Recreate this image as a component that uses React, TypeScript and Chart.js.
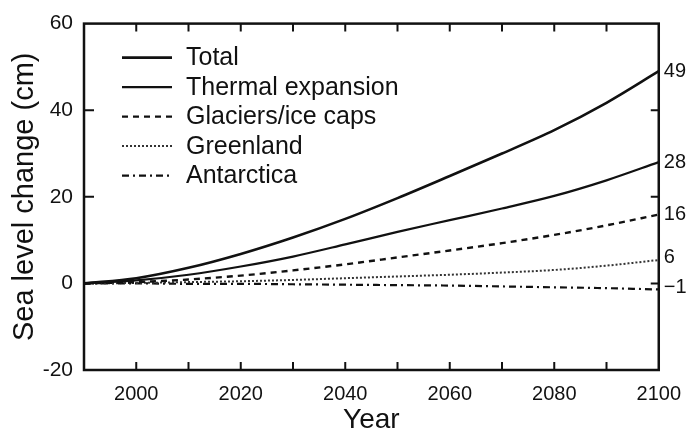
import React, { useEffect, useRef } from "react";
import { Chart, registerables } from "chart.js";

Chart.register(...registerables);

const years = [1990, 2000, 2010, 2020, 2030, 2040, 2050, 2060, 2070, 2080, 2090, 2100];
const total = [0, 1.2, 3.6, 6.8, 10.6, 14.9, 19.7, 24.8, 30.0, 35.4, 41.7, 49];
const thermal = [0, 0.7, 2.0, 3.9, 6.2, 9.0, 11.9, 14.6, 17.3, 20.2, 23.8, 28];
const glaciers = [0, 0.3, 0.9, 1.8, 3.0, 4.4, 6.0, 7.6, 9.3, 11.2, 13.4, 15.9];
const greenland = [0, 0.1, 0.3, 0.5, 0.8, 1.2, 1.6, 2.0, 2.5, 3.1, 4.1, 5.4];
const antarctica = [0, 0, -0.1, -0.1, -0.2, -0.3, -0.4, -0.5, -0.7, -0.9, -1.1, -1.4];

const seriesLabels = ["Total", "Thermal expansion", "Glaciers/ice caps", "Greenland", "Antarctica"];
const xTickLabels = [2000, 2020, 2040, 2060, 2080, 2100];
const xMinorTicks = [2000, 2010, 2020, 2030, 2040, 2050, 2060, 2070, 2080, 2090];
const yTicks = [-20, 0, 20, 40, 60];
const yInnerTicks = [0, 20, 40];
const rightLabelValues = [49, 28, 16, 6, -1];

const FONT = "'Liberation Sans', Arial, Helvetica, sans-serif";

const frameAndLegend = {
  id: "frameAndLegend",
  afterDraw(chart: any) {
    const ctx = chart.ctx;
    const { left, right, top, bottom } = chart.chartArea;
    const xs = chart.scales.x;
    const ys = chart.scales.y;
    ctx.save();
    ctx.strokeStyle = "#111";
    ctx.lineWidth = 2.5;
    ctx.setLineDash([]);
    ctx.strokeRect(left, top, right - left, bottom - top);
    ctx.lineWidth = 2;
    ctx.beginPath();
    xMinorTicks.forEach((v) => {
      const px = xs.getPixelForValue(v);
      ctx.moveTo(px, bottom);
      ctx.lineTo(px, bottom - 8);
      ctx.moveTo(px, top);
      ctx.lineTo(px, top + 8);
    });
    yInnerTicks.forEach((v) => {
      const py = ys.getPixelForValue(v);
      ctx.moveTo(left, py);
      ctx.lineTo(left + 10, py);
      ctx.moveTo(right, py);
      ctx.lineTo(right - 8, py);
    });
    ctx.stroke();

    // legend
    const lx = left + 38;
    const ly = top + 34;
    const step = 29.5;
    chart.data.datasets.forEach((ds: any, i: number) => {
      const y = ly + i * step;
      ctx.beginPath();
      ctx.strokeStyle = ds.borderColor;
      ctx.lineWidth = ds.borderWidth;
      ctx.setLineDash(ds.borderDash || []);
      ctx.moveTo(lx, y);
      ctx.lineTo(lx + 50, y);
      ctx.stroke();
      ctx.setLineDash([]);
      ctx.fillStyle = "#111";
      ctx.font = `25px ${FONT}`;
      ctx.textBaseline = "middle";
      ctx.textAlign = "left";
      ctx.fillText(ds.label, lx + 64, y + 1);
    });
    ctx.restore();
  },
};

export default function App() {
  const ref = useRef<HTMLCanvasElement>(null);
  useEffect(() => {
    document.body.style.margin = "0";
    const mk = (vals: number[]) => years.map((y, i) => ({ x: y, y: vals[i] }));
    const chart = new Chart(ref.current!, {
      type: "line",
      data: {
        datasets: [
          { label: seriesLabels[0], data: mk(total), borderColor: "#111", borderWidth: 2.6, borderDash: [] },
          { label: seriesLabels[1], data: mk(thermal), borderColor: "#111", borderWidth: 2.2, borderDash: [] },
          { label: seriesLabels[2], data: mk(glaciers), borderColor: "#111", borderWidth: 2.4, borderDash: [6, 5] },
          { label: seriesLabels[3], data: mk(greenland), borderColor: "#333", borderWidth: 2, borderDash: [2, 2] },
          { label: seriesLabels[4], data: mk(antarctica), borderColor: "#111", borderWidth: 2.2, borderDash: [7, 4, 2, 4] },
        ] as any,
      },
      options: {
        responsive: false,
        animation: false,
        layout: { padding: { top: 16, left: 0, right: 0, bottom: 0 } },
        elements: { point: { radius: 0 }, line: { tension: 0.4, cubicInterpolationMode: "monotone" } },
        plugins: { legend: { display: false }, tooltip: { enabled: false } },
        scales: {
          x: {
            type: "linear",
            min: 1990,
            max: 2100,
            grid: { display: false, drawTicks: false },
            border: { display: false },
            afterBuildTicks: (s: any) => {
              s.ticks = xTickLabels.map((v) => ({ value: v }));
            },
            afterFit: (s: any) => {
              s.height = 64;
            },
            ticks: {
              color: "#111",
              padding: 12,
              maxRotation: 0,
              autoSkip: false,
              font: { family: FONT, size: 20 },
              callback: (v: any) => String(v),
            },
            title: {
              display: true,
              text: "Year",
              color: "#111",
              font: { family: FONT, size: 28, lineHeight: 1 },
              padding: { top: 0, bottom: 0 },
            },
          },
          y: {
            type: "linear",
            position: "left",
            min: -20,
            max: 60,
            grid: { display: false, drawTicks: false },
            border: { display: false },
            afterBuildTicks: (s: any) => {
              s.ticks = yTicks.map((v) => ({ value: v }));
            },
            afterFit: (s: any) => {
              s.width = 84;
            },
            ticks: {
              color: "#111",
              padding: 11,
              font: { family: FONT, size: 21 },
              callback: (v: any) => String(v),
            },
            title: {
              display: true,
              text: "Sea level change (cm)",
              color: "#111",
              font: { family: FONT, size: 29, lineHeight: 1 },
              padding: { top: 10, bottom: 0 },
            },
          },
          y2: {
            type: "linear",
            position: "right",
            min: -20,
            max: 60,
            grid: { display: false, drawTicks: false },
            border: { display: false },
            afterBuildTicks: (s: any) => {
              s.ticks = rightLabelValues.map((v) => ({ value: v }));
            },
            afterFit: (s: any) => {
              s.width = 33;
            },
            ticks: {
              color: "#111",
              padding: 5,
              font: { family: FONT, size: 20 },
              callback: (v: any) => (v < 0 ? "\u2212" + Math.abs(v) : String(v)),
            },
          },
        },
      } as any,
      plugins: [frameAndLegend],
    });
    return () => chart.destroy();
  }, []);
  return (
    <div style={{ position: "fixed", left: 0, top: 0, width: 693, height: 434, background: "#fff" }}>
      <canvas ref={ref} width={693} height={434} />
    </div>
  );
}
